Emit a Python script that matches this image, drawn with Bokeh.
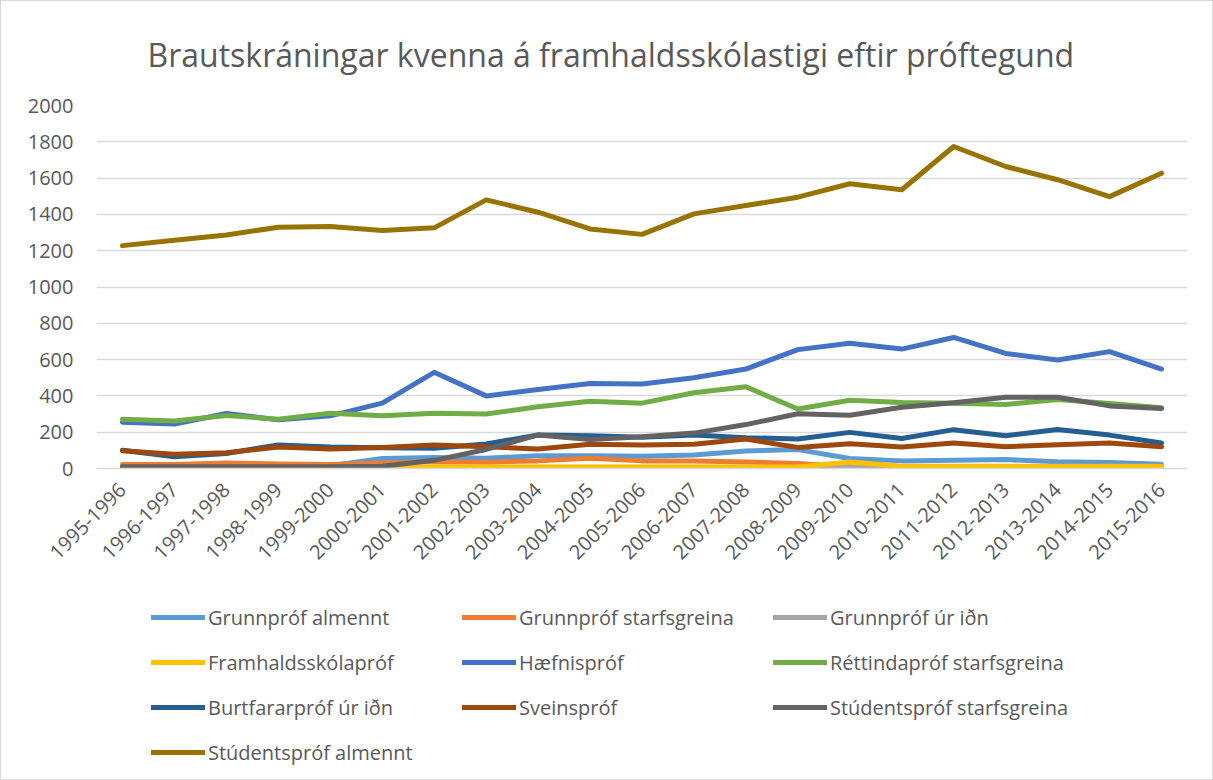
import math
from bokeh.plotting import figure
from bokeh.layouts import column
from bokeh.models import Range1d, FactorRange, Legend, LegendItem, FixedTicker
from bokeh.embed import file_html
from bokeh.resources import INLINE

years = ["1995-1996", "1996-1997", "1997-1998", "1998-1999", "1999-2000", "2000-2001",
         "2001-2002", "2002-2003", "2003-2004", "2004-2005", "2005-2006", "2006-2007",
         "2007-2008", "2008-2009", "2009-2010", "2010-2011", "2011-2012", "2012-2013",
         "2013-2014", "2014-2015", "2015-2016"]

grunnprof_almennt = [10, 10, 12, 12, 15, 55, 60, 57, 70, 70, 68, 74, 97, 104, 55, 42, 45, 49, 37, 33, 24]
grunnprof_starfsgreina = [22, 22, 30, 25, 22, 30, 38, 35, 42, 57, 42, 41, 36, 28, 8, 5, 5, 5, 5, 5, 3]
grunnprof_ur_idn = [3, 3, 3, 3, 3, 3, 3, 3, 5, 5, 5, 5, 5, 5, 16, 3, 3, 3, 3, 3, 3]
framhaldsskolaprof = [2, 2, 2, 2, 2, 5, 10, 8, 8, 8, 8, 8, 8, 8, 36, 12, 12, 12, 12, 12, 12]
haefnisprof = [255, 245, 303, 268, 290, 360, 530, 400, 435, 468, 466, 500, 548, 655, 690, 658, 722, 634, 598, 644, 548]
rettindaprof = [272, 262, 292, 272, 305, 290, 305, 300, 340, 370, 360, 417, 450, 328, 376, 364, 360, 353, 380, 358, 335]
burtfararprof = [100, 65, 83, 130, 118, 115, 112, 135, 185, 180, 172, 185, 170, 162, 199, 165, 214, 180, 215, 184, 140]
sveinsprof = [98, 78, 87, 118, 107, 116, 129, 120, 107, 134, 130, 134, 162, 116, 136, 118, 141, 120, 131, 141, 120]
studentsprof_starfsgreina = [10, 10, 10, 10, 10, 12, 45, 105, 185, 160, 175, 195, 242, 302, 293, 337, 362, 393, 393, 345, 330]
studentsprof_almennt = [1228, 1258, 1287, 1329, 1333, 1311, 1326, 1480, 1412, 1320, 1290, 1403, 1449, 1495, 1569, 1536, 1774, 1664, 1591, 1498, 1627]

series_names = ["Grunnpróf almennt", "Grunnpróf starfsgreina", "Grunnpróf úr iðn",
                "Framhaldsskólapróf", "Hæfnispróf", "Réttindapróf starfsgreina",
                "Burtfararpróf úr iðn", "Sveinspróf", "Stúdentspróf starfsgreina",
                "Stúdentspróf almennt"]
series_values = [grunnprof_almennt, grunnprof_starfsgreina, grunnprof_ur_idn,
                 framhaldsskolaprof, haefnisprof, rettindaprof, burtfararprof,
                 sveinsprof, studentsprof_starfsgreina, studentsprof_almennt]
series_colors = ["#5B9BD5", "#ED7D31", "#A5A5A5", "#FFC000", "#4472C4", "#70AD47",
                 "#255E91", "#9E480E", "#636363", "#997300"]
y_ticks = [0, 200, 400, 600, 800, 1000, 1200, 1400, 1600, 1800, 2000]
title_text = "Brautskráningar kvenna á framhaldsskólastigi eftir próftegund"

FONT = "Open Sans"
TXT = "#595959"

# ---- main chart ----
p = figure(frame_width=1091, frame_height=363,
           x_range=FactorRange(*years, range_padding=0),
           y_range=Range1d(0, 2000),
           output_backend="svg", toolbar_location=None,
           min_border_left=95, min_border_right=25,
           min_border_top=104, min_border_bottom=100,
           title=title_text)
p.outline_line_color = None
p.background_fill_color = "white"
p.border_fill_color = "white"

p.title.align = "left"
p.title.offset = 51
p.title.text_font = FONT
p.title.text_font_size = "32px"
p.title.text_font_style = "normal"
p.title.text_color = TXT
p.title.standoff = 59

p.xgrid.grid_line_color = None
p.ygrid.grid_line_color = "#D9D9D9"
p.ygrid.grid_line_width = 1.5
p.yaxis.ticker = FixedTicker(ticks=y_ticks)
p.yaxis.axis_line_color = None
p.yaxis.major_tick_line_color = None
p.yaxis.minor_tick_line_color = None
p.yaxis.major_label_standoff = 17
p.yaxis.major_label_text_font = FONT
p.yaxis.major_label_text_font_size = "20px"
p.yaxis.major_label_text_color = TXT

p.xaxis.axis_line_color = "#D9D9D9"
p.xaxis.axis_line_width = 1.5
p.xaxis.major_tick_line_color = None
p.xaxis.minor_tick_line_color = None
p.xaxis.major_label_orientation = math.pi / 4
p.xaxis.major_label_standoff = 12
p.xaxis.major_label_text_font = FONT
p.xaxis.major_label_text_font_size = "20px"
p.xaxis.major_label_text_color = TXT

for name, vals, col in zip(series_names, series_values, series_colors):
    p.line(x=years, y=vals, line_color=col, line_width=5,
           line_join="round", line_cap="round")

# ---- legend strip (same side borders so the frames line up) ----
lg = figure(frame_width=1091, height=211,
            x_range=FactorRange(*years, range_padding=0), y_range=Range1d(0, 1),
            output_backend="svg", toolbar_location=None,
            x_axis_location=None, y_axis_location=None,
            min_border_left=95, min_border_right=25,
            min_border_top=0, min_border_bottom=0)
lg.grid.visible = False
lg.outline_line_color = None
lg.background_fill_color = "white"
lg.border_fill_color = "white"

items = []
for name, vals, col in zip(series_names, series_values, series_colors):
    r = lg.line(x=years, y=vals, line_color=col, line_width=5,
                line_cap="round", visible=False)
    items.append(LegendItem(label=name, renderers=[r]))

legend = Legend(items=items, location=(55, 12), orientation="horizontal", ncols=3,
                glyph_width=54, glyph_height=30, label_height=30, label_width=239,
                spacing=15, label_standoff=3, padding=0, margin=0,
                border_line_color=None, background_fill_alpha=0,
                inactive_fill_alpha=0,
                label_text_font=FONT, label_text_font_size="20px",
                label_text_color=TXT)
lg.add_layout(legend, "center")

layout = column(p, lg, spacing=0)
layout.styles = {"border": "1px solid #D9D9D9"}

open("out.html", "w").write(file_html(layout, INLINE))
